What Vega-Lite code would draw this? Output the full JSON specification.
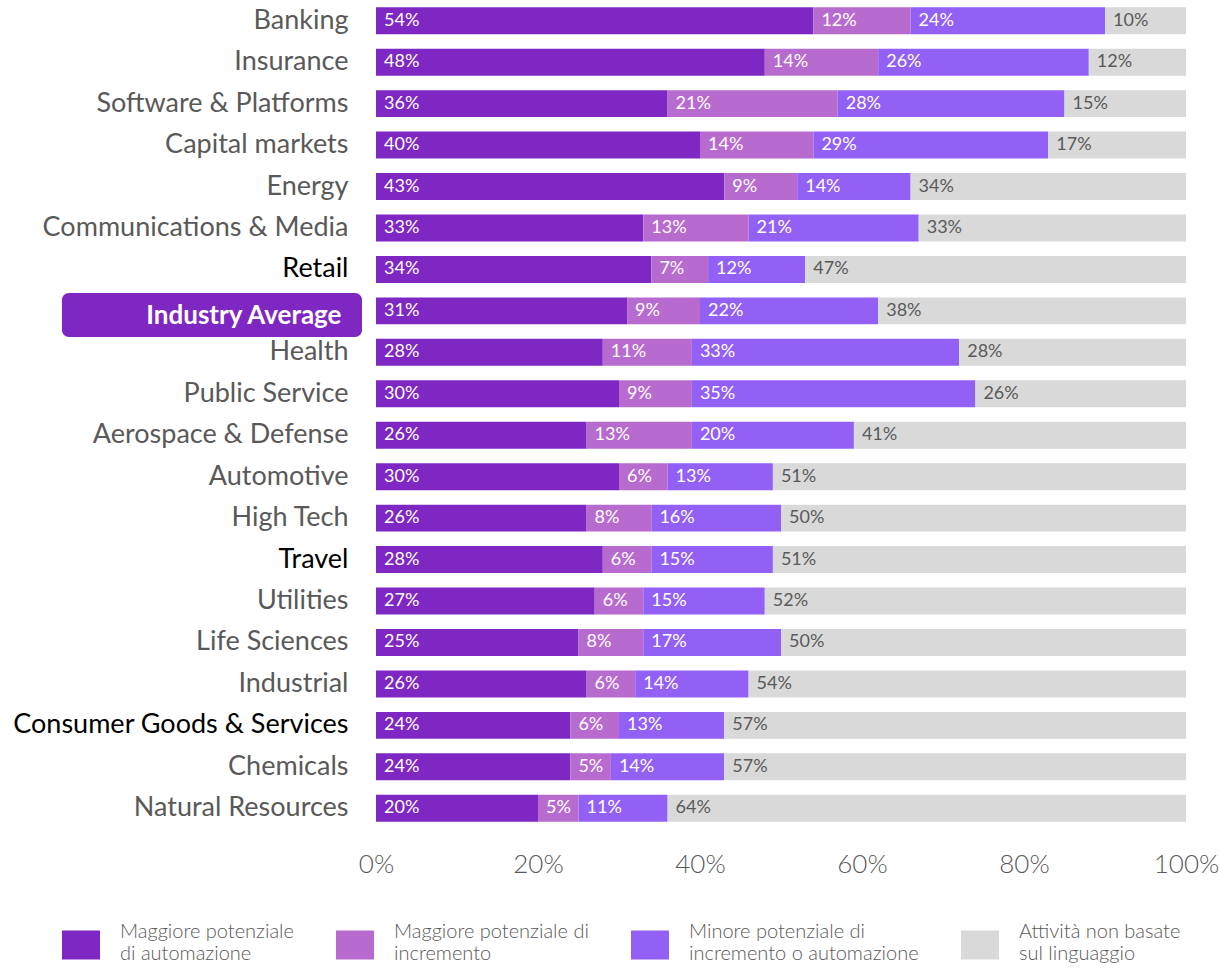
{
  "$schema": "https://vega.github.io/schema/vega-lite/v6.json",
  "width": 810,
  "height": 829,
  "autosize": {"type": "none"},
  "padding": {"left": 376, "top": 0, "right": 34, "bottom": 147},
  "background": "white",
  "config": {"view": {"stroke": null}, "font": "Lato"},
  "data": {"values": [
    {"industry": "Banking", "c": "Maggiore potenziale di automazione", "o": 1, "v": 0.54},
    {"industry": "Banking", "c": "Maggiore potenziale di incremento", "o": 2, "v": 0.12},
    {"industry": "Banking", "c": "Minore potenziale di incremento o automazione", "o": 3, "v": 0.24},
    {"industry": "Banking", "c": "Attività non basate sul linguaggio", "o": 4, "v": 0.10},
    {"industry": "Insurance", "c": "Maggiore potenziale di automazione", "o": 1, "v": 0.48},
    {"industry": "Insurance", "c": "Maggiore potenziale di incremento", "o": 2, "v": 0.14},
    {"industry": "Insurance", "c": "Minore potenziale di incremento o automazione", "o": 3, "v": 0.26},
    {"industry": "Insurance", "c": "Attività non basate sul linguaggio", "o": 4, "v": 0.12},
    {"industry": "Software & Platforms", "c": "Maggiore potenziale di automazione", "o": 1, "v": 0.36},
    {"industry": "Software & Platforms", "c": "Maggiore potenziale di incremento", "o": 2, "v": 0.21},
    {"industry": "Software & Platforms", "c": "Minore potenziale di incremento o automazione", "o": 3, "v": 0.28},
    {"industry": "Software & Platforms", "c": "Attività non basate sul linguaggio", "o": 4, "v": 0.15},
    {"industry": "Capital markets", "c": "Maggiore potenziale di automazione", "o": 1, "v": 0.40},
    {"industry": "Capital markets", "c": "Maggiore potenziale di incremento", "o": 2, "v": 0.14},
    {"industry": "Capital markets", "c": "Minore potenziale di incremento o automazione", "o": 3, "v": 0.29},
    {"industry": "Capital markets", "c": "Attività non basate sul linguaggio", "o": 4, "v": 0.17},
    {"industry": "Energy", "c": "Maggiore potenziale di automazione", "o": 1, "v": 0.43},
    {"industry": "Energy", "c": "Maggiore potenziale di incremento", "o": 2, "v": 0.09},
    {"industry": "Energy", "c": "Minore potenziale di incremento o automazione", "o": 3, "v": 0.14},
    {"industry": "Energy", "c": "Attività non basate sul linguaggio", "o": 4, "v": 0.34},
    {"industry": "Communications & Media", "c": "Maggiore potenziale di automazione", "o": 1, "v": 0.33},
    {"industry": "Communications & Media", "c": "Maggiore potenziale di incremento", "o": 2, "v": 0.13},
    {"industry": "Communications & Media", "c": "Minore potenziale di incremento o automazione", "o": 3, "v": 0.21},
    {"industry": "Communications & Media", "c": "Attività non basate sul linguaggio", "o": 4, "v": 0.33},
    {"industry": "Retail", "c": "Maggiore potenziale di automazione", "o": 1, "v": 0.34},
    {"industry": "Retail", "c": "Maggiore potenziale di incremento", "o": 2, "v": 0.07},
    {"industry": "Retail", "c": "Minore potenziale di incremento o automazione", "o": 3, "v": 0.12},
    {"industry": "Retail", "c": "Attività non basate sul linguaggio", "o": 4, "v": 0.47},
    {"industry": "Industry Average", "c": "Maggiore potenziale di automazione", "o": 1, "v": 0.31},
    {"industry": "Industry Average", "c": "Maggiore potenziale di incremento", "o": 2, "v": 0.09},
    {"industry": "Industry Average", "c": "Minore potenziale di incremento o automazione", "o": 3, "v": 0.22},
    {"industry": "Industry Average", "c": "Attività non basate sul linguaggio", "o": 4, "v": 0.38},
    {"industry": "Health", "c": "Maggiore potenziale di automazione", "o": 1, "v": 0.28},
    {"industry": "Health", "c": "Maggiore potenziale di incremento", "o": 2, "v": 0.11},
    {"industry": "Health", "c": "Minore potenziale di incremento o automazione", "o": 3, "v": 0.33},
    {"industry": "Health", "c": "Attività non basate sul linguaggio", "o": 4, "v": 0.28},
    {"industry": "Public Service", "c": "Maggiore potenziale di automazione", "o": 1, "v": 0.30},
    {"industry": "Public Service", "c": "Maggiore potenziale di incremento", "o": 2, "v": 0.09},
    {"industry": "Public Service", "c": "Minore potenziale di incremento o automazione", "o": 3, "v": 0.35},
    {"industry": "Public Service", "c": "Attività non basate sul linguaggio", "o": 4, "v": 0.26},
    {"industry": "Aerospace & Defense", "c": "Maggiore potenziale di automazione", "o": 1, "v": 0.26},
    {"industry": "Aerospace & Defense", "c": "Maggiore potenziale di incremento", "o": 2, "v": 0.13},
    {"industry": "Aerospace & Defense", "c": "Minore potenziale di incremento o automazione", "o": 3, "v": 0.20},
    {"industry": "Aerospace & Defense", "c": "Attività non basate sul linguaggio", "o": 4, "v": 0.41},
    {"industry": "Automotive", "c": "Maggiore potenziale di automazione", "o": 1, "v": 0.30},
    {"industry": "Automotive", "c": "Maggiore potenziale di incremento", "o": 2, "v": 0.06},
    {"industry": "Automotive", "c": "Minore potenziale di incremento o automazione", "o": 3, "v": 0.13},
    {"industry": "Automotive", "c": "Attività non basate sul linguaggio", "o": 4, "v": 0.51},
    {"industry": "High Tech", "c": "Maggiore potenziale di automazione", "o": 1, "v": 0.26},
    {"industry": "High Tech", "c": "Maggiore potenziale di incremento", "o": 2, "v": 0.08},
    {"industry": "High Tech", "c": "Minore potenziale di incremento o automazione", "o": 3, "v": 0.16},
    {"industry": "High Tech", "c": "Attività non basate sul linguaggio", "o": 4, "v": 0.50},
    {"industry": "Travel", "c": "Maggiore potenziale di automazione", "o": 1, "v": 0.28},
    {"industry": "Travel", "c": "Maggiore potenziale di incremento", "o": 2, "v": 0.06},
    {"industry": "Travel", "c": "Minore potenziale di incremento o automazione", "o": 3, "v": 0.15},
    {"industry": "Travel", "c": "Attività non basate sul linguaggio", "o": 4, "v": 0.51},
    {"industry": "Utilities", "c": "Maggiore potenziale di automazione", "o": 1, "v": 0.27},
    {"industry": "Utilities", "c": "Maggiore potenziale di incremento", "o": 2, "v": 0.06},
    {"industry": "Utilities", "c": "Minore potenziale di incremento o automazione", "o": 3, "v": 0.15},
    {"industry": "Utilities", "c": "Attività non basate sul linguaggio", "o": 4, "v": 0.52},
    {"industry": "Life Sciences", "c": "Maggiore potenziale di automazione", "o": 1, "v": 0.25},
    {"industry": "Life Sciences", "c": "Maggiore potenziale di incremento", "o": 2, "v": 0.08},
    {"industry": "Life Sciences", "c": "Minore potenziale di incremento o automazione", "o": 3, "v": 0.17},
    {"industry": "Life Sciences", "c": "Attività non basate sul linguaggio", "o": 4, "v": 0.50},
    {"industry": "Industrial", "c": "Maggiore potenziale di automazione", "o": 1, "v": 0.26},
    {"industry": "Industrial", "c": "Maggiore potenziale di incremento", "o": 2, "v": 0.06},
    {"industry": "Industrial", "c": "Minore potenziale di incremento o automazione", "o": 3, "v": 0.14},
    {"industry": "Industrial", "c": "Attività non basate sul linguaggio", "o": 4, "v": 0.54},
    {"industry": "Consumer Goods & Services", "c": "Maggiore potenziale di automazione", "o": 1, "v": 0.24},
    {"industry": "Consumer Goods & Services", "c": "Maggiore potenziale di incremento", "o": 2, "v": 0.06},
    {"industry": "Consumer Goods & Services", "c": "Minore potenziale di incremento o automazione", "o": 3, "v": 0.13},
    {"industry": "Consumer Goods & Services", "c": "Attività non basate sul linguaggio", "o": 4, "v": 0.57},
    {"industry": "Chemicals", "c": "Maggiore potenziale di automazione", "o": 1, "v": 0.24},
    {"industry": "Chemicals", "c": "Maggiore potenziale di incremento", "o": 2, "v": 0.05},
    {"industry": "Chemicals", "c": "Minore potenziale di incremento o automazione", "o": 3, "v": 0.14},
    {"industry": "Chemicals", "c": "Attività non basate sul linguaggio", "o": 4, "v": 0.57},
    {"industry": "Natural Resources", "c": "Maggiore potenziale di automazione", "o": 1, "v": 0.20},
    {"industry": "Natural Resources", "c": "Maggiore potenziale di incremento", "o": 2, "v": 0.05},
    {"industry": "Natural Resources", "c": "Minore potenziale di incremento o automazione", "o": 3, "v": 0.11},
    {"industry": "Natural Resources", "c": "Attività non basate sul linguaggio", "o": 4, "v": 0.64}
  ]},
  "transform": [
    {"stack": "v", "groupby": ["industry"], "sort": [{"field": "o"}], "as": ["v0", "v1"]}
  ],
  "encoding": {
    "y": {
      "field": "industry", "type": "nominal",
      "sort": ["Banking", "Insurance", "Software & Platforms", "Capital markets", "Energy", "Communications & Media", "Retail", "Industry Average", "Health", "Public Service", "Aerospace & Defense", "Automotive", "High Tech", "Travel", "Utilities", "Life Sciences", "Industrial", "Consumer Goods & Services", "Chemicals", "Natural Resources"],
      "scale": {"paddingInner": 0.35, "paddingOuter": 0.175},
      "axis": {
        "title": null, "domain": false, "ticks": false,
        "labelLimit": 400, "zindex": 1,
        "labelColor": {"condition": [
          {"test": "datum.value == 'Industry Average'", "value": "white"},
          {"test": "indexof(['Retail','Travel','Consumer Goods & Services'], datum.value) >= 0", "value": "black"}
        ], "value": "#595959"},
        "labelFontWeight": {"condition": {"test": "datum.value == 'Industry Average'", "value": "bold"}, "value": "normal"},
        "labelFontSize": {"condition": {"test": "datum.value == 'Industry Average'", "value": 26}, "value": 27},
        "labelPadding": {"condition": {"test": "datum.value == 'Industry Average'", "value": 35}, "value": 28},
        "labelOffset": {"condition": {"test": "datum.value == 'Industry Average'", "value": 5}, "value": 0}
      }
    }
  },
  "layer": [
    {
      "transform": [{"filter": "datum.industry == 'Industry Average' && datum.o == 1"}],
      "mark": {"type": "bar", "height": 44, "cornerRadius": 7, "yOffset": 4, "color": "#7E27C2"},
      "encoding": {
        "x": {"datum": -0.3877, "type": "quantitative", "scale": {"domain": [0, 1], "nice": false},
              "axis": {"values": [0, 0.2, 0.4, 0.6, 0.8, 1], "format": ".0%", "title": null, "domain": false, "ticks": false, "grid": false, "labelFont": "Lato", "labelFontWeight": 300, "labelFontSize": 26, "labelColor": "#595959", "labelPadding": 22, "labelFlush": false}},
        "x2": {"datum": -0.0173}
      }
    },
    {
      "mark": {"type": "bar"},
      "encoding": {
        "x": {"field": "v0", "type": "quantitative", "scale": {"domain": [0, 1], "nice": false},
              "axis": {"values": [0, 0.2, 0.4, 0.6, 0.8, 1], "format": ".0%", "title": null, "domain": false, "ticks": false, "grid": false, "labelFont": "Lato", "labelFontWeight": 300, "labelFontSize": 26, "labelColor": "#595959", "labelPadding": 22, "labelFlush": false}},
        "x2": {"field": "v1"},
        "color": {
          "field": "c", "type": "nominal",
          "sort": ["Maggiore potenziale di automazione", "Maggiore potenziale di incremento", "Minore potenziale di incremento o automazione", "Attività non basate sul linguaggio"],
          "scale": {
            "domain": ["Maggiore potenziale di automazione", "Maggiore potenziale di incremento", "Minore potenziale di incremento o automazione", "Attività non basate sul linguaggio"],
            "range": ["#7E27C2", "#B86BCF", "#9360F5", "#D9D9D9"]
          },
          "legend": {
            "orient": "none", "legendX": -314, "legendY": 926,
            "direction": "horizontal", "columns": 4, "title": null, "padding": 0,
            "symbolType": "M-1,-0.76H1V0.76H-1Z", "symbolSize": 1444, "symbolStrokeWidth": 0,
            "labelFontSize": 20, "labelFontWeight": 300, "labelColor": "#595959", "labelLimit": 400, "labelOffset": 20,
            "labelLineHeight": 25, "columnPadding": 42,
            "labelExpr": "datum.label == 'Maggiore potenziale di automazione' ? ['Maggiore potenziale', 'di automazione'] : datum.label == 'Maggiore potenziale di incremento' ? ['Maggiore potenziale di', 'incremento'] : datum.label == 'Minore potenziale di incremento o automazione' ? ['Minore potenziale di', 'incremento o automazione'] : ['Attività non basate', 'sul linguaggio']",
            "encode": {"labels": {"update": {"dy": {"value": -13}}}}
          }
        }
      }
    },
    {
      "mark": {"type": "text", "align": "left", "baseline": "middle", "dx": 8, "fontSize": 18},
      "encoding": {
        "x": {"field": "v0", "type": "quantitative", "scale": {"domain": [0, 1], "nice": false}},
        "text": {"field": "v", "format": ".0%"},
        "color": {"condition": {"test": "datum.o == 4", "value": "#595959"}, "value": "white"}
      }
    }
  ]
}
